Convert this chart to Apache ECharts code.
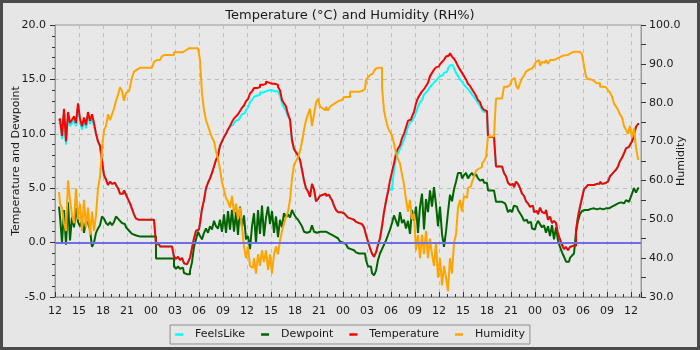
<!DOCTYPE html>
<html>
<head>
<meta charset="utf-8">
<script src="https://cdn.jsdelivr.net/npm/echarts@6/dist/echarts.min.js"></script>
<style>
  html, body { margin: 0; padding: 0; background: #e6e6e6; }
  #chart { width: 700px; height: 350px; }
</style>
</head>
<body>
<div id="chart"></div>
<script>
// Sampling: readings every 15 minutes, starting 12:30 on the first day.
// Hours are counted from 12:00 on the first day.
const startHour = 0.5;
const stepHours = 0.25;

// Labels for the 3-hourly ticks (0, 3, 6, ... 72 hours after 12:00)
const hourLabels = [
  '12', '15', '18', '21', '00', '03', '06', '09',
  '12', '15', '18', '21', '00', '03', '06', '09',
  '12', '15', '18', '21', '00', '03', '06', '09',
  '12'
];

const seriesNames = ['FeelsLike', 'Dewpoint', 'Temperature', 'Humidity'];

// Air temperature, °C (one row per hour)
const temperature = [
  11.2, 11.4,
  9.8, 12.3, 9.3, 12.0,
  11.0, 11.3, 11.6, 11.0,
  12.8, 11.4, 10.7, 11.5,
  10.8, 12.0, 11.2, 11.8,
  11.0, 10.0, 9.3, 8.9,
  7.5, 6.2, 5.8, 5.3,
  5.6, 5.4, 5.5, 5.3,
  5.0, 4.5, 4.5, 4.8,
  4.4, 4.0, 3.6, 3.1,
  2.6, 2.2, 2.1, 2.1,
  2.1, 2.1, 2.1, 2.1,
  2.1, 2.1, 2.1, -0.1,
  -0.15, -0.35, -0.35, -0.35,
  -0.35, -0.35, -0.35, -0.5,
  -1.3, -1.5, -1.3, -1.6,
  -1.4, -1.9, -2.0, -1.8,
  -1.4, -0.5, 0.4, 1.1,
  1.2, 1.8, 3.1, 3.9,
  5.0, 5.5, 5.9, 6.4,
  7.0, 7.6, 8.0, 8.9,
  9.3, 9.7, 10.0, 10.4,
  10.7, 11.1, 11.4, 11.6,
  11.8, 12.1, 12.4, 12.6,
  13.0, 13.2, 13.7, 13.9,
  14.2, 14.2, 14.3, 14.5,
  14.5, 14.6, 14.8, 14.7,
  14.6, 14.6, 14.6, 14.5,
  14.3, 14.0, 13.1, 12.8,
  12.5, 11.8, 11.3, 9.4,
  8.6, 8.3, 8.0, 7.6,
  6.7, 5.7, 5.0, 4.7,
  4.2, 5.4, 4.9, 3.8,
  4.0, 4.3, 4.4, 4.5,
  4.3, 4.4, 4.2, 3.9,
  3.4, 3.0, 2.8, 2.8,
  2.7, 2.6, 2.5, 2.3,
  2.2, 2.1, 2.1, 1.9,
  1.8, 1.7, 1.6, 1.4,
  0.7, 0.1, -0.5, -1.0,
  -1.3, -0.9, -0.2, 0.4,
  1.5, 2.8, 3.8, 4.7,
  5.7, 6.5, 7.3, 8.2,
  8.65, 8.95, 9.6, 10.0,
  10.6, 11.2, 11.3, 11.6,
  12.0, 12.8, 13.3, 13.6,
  13.9, 14.1, 14.4, 14.7,
  15.3, 15.6, 15.9, 16.1,
  16.2, 16.4, 16.6, 16.8,
  17.1, 17.2, 17.4, 17.1,
  16.9, 16.6, 16.2, 15.9,
  15.6, 15.3, 15.0, 14.6,
  14.4, 14.1, 13.8, 13.5,
  13.1, 12.9, 12.4, 12.2,
  12.1, 9.7, 9.7, 9.7,
  9.7, 7.0, 7.0, 7.0,
  7.0, 6.4, 6.1, 5.5,
  5.3, 5.4, 5.1, 5.6,
  5.4, 5.0, 4.5, 4.3,
  3.8, 3.6, 3.3, 3.4,
  2.8, 2.9, 2.6, 3.2,
  2.8, 2.7, 3.0, 2.1,
  2.4, 1.8, 2.0, 1.8,
  0.8, 0.3, -0.2, -0.6,
  -0.4, -0.7, -0.4, -0.3,
  -0.3, 1.1, 2.4, 3.3,
  4.1, 4.9, 5.1, 5.3,
  5.3, 5.3, 5.4, 5.4,
  5.4, 5.6, 5.4, 5.45,
  5.6, 5.75, 6.1, 6.3,
  6.5, 6.7, 7.0, 7.5,
  7.8, 8.2, 8.65, 8.8,
  9.0, 9.3, 9.9, 10.65,
  10.9
];

// Apparent ("feels like") temperature, °C
const feelsLike = [
  10.9, 11.1,
  9.5, 12.0, 9.0, 11.7,
  10.7, 11.0, 11.3, 10.7,
  12.5, 11.1, 10.4, 11.2,
  10.5, 11.7, 10.9, 11.5,
  10.7, 10.0, 9.3, 8.9,
  7.5, 6.2, 5.8, 5.3,
  5.6, 5.4, 5.5, 5.3,
  5.0, 4.5, 4.5, 4.8,
  4.4, 4.0, 3.6, 3.1,
  2.6, 2.2, 2.1, 2.1,
  2.1, 2.1, 2.1, 2.1,
  2.1, 2.1, 2.1, -0.1,
  -0.15, -0.35, -0.35, -0.35,
  -0.35, -0.35, -0.35, -0.5,
  -1.3, -1.5, -1.3, -1.6,
  -1.4, -1.9, -2.0, -1.8,
  -1.4, -0.5, 0.4, 1.1,
  1.2, 1.8, 3.1, 3.9,
  5.0, 5.5, 5.9, 6.4,
  7.0, 7.6, 8.0, 8.9,
  9.3, 9.7, 10.0, 10.4,
  10.7, 10.8, 11.0, 11.2,
  11.3, 11.5, 11.8, 11.9,
  12.2, 12.4, 12.9, 13.1,
  13.4, 13.5, 13.6, 13.8,
  13.8, 13.9, 14.0, 14.0,
  14.0, 14.0, 13.9, 13.9,
  13.8, 13.5, 12.8, 12.4,
  12.1, 11.6, 11.3, 9.4,
  8.6, 8.3, 8.0, 7.6,
  6.7, 5.7, 5.0, 4.7,
  4.2, 5.4, 4.9, 3.8,
  4.0, 4.3, 4.4, 4.5,
  4.3, 4.4, 4.2, 3.9,
  3.4, 3.0, 2.8, 2.8,
  2.7, 2.6, 2.5, 2.3,
  2.2, 2.1, 2.1, 1.9,
  1.8, 1.7, 1.6, 1.4,
  0.7, 0.1, -0.5, -1.0,
  -1.3, -0.9, -0.2, 0.4,
  1.5, 2.8, 3.8, 4.7,
  5.0, 4.8, 6.8, 7.8,
  8.2, 8.6, 9.0, 9.5,
  10.0, 10.7, 11.0, 11.2,
  11.5, 12.0, 12.5, 12.9,
  13.1, 13.6, 13.8, 14.0,
  14.3, 14.5, 14.7, 14.9,
  15.1, 15.3, 15.4, 15.6,
  15.7, 16.0, 16.3, 16.3,
  16.0, 15.6, 15.3, 15.0,
  14.8, 14.5, 14.3, 14.1,
  13.9, 13.6, 13.4, 13.1,
  12.8, 12.6, 12.2, 12.0,
  12.0, 9.7, 9.7, 9.7,
  9.7, 7.0, 7.0, 7.0,
  7.0, 6.4, 6.1, 5.5,
  5.3, 5.4, 5.1, 5.6,
  5.4, 5.0, 4.5, 4.3,
  3.8, 3.6, 3.3, 3.4,
  2.8, 2.9, 2.6, 3.2,
  2.8, 2.7, 3.0, 2.1,
  2.4, 1.8, 2.0, 1.8,
  0.8, 0.3, -0.2, -0.6,
  -0.4, -0.7, -0.4, -0.3,
  -0.3, 1.1, 2.4, 3.3,
  4.1, 4.9, 5.1, 5.3,
  5.3, 5.3, 5.4, 5.4,
  5.4, 5.6, 5.4, 5.45,
  5.6, 5.75, 6.1, 6.3,
  6.5, 6.7, 7.0, 7.5,
  7.8, 8.2, 8.65, 8.8,
  9.0, 9.3, 9.9, 10.65,
  10.9
];

// Dew point, °C
const dewpoint = [
  3.3, 2.4,
  0.0, 3.0, -0.2, 3.7,
  0.2, 2.4, 1.4, 3.2,
  1.9, 1.5, 2.0, 0.9,
  2.0, 1.8, 1.2, -0.4,
  0.0, 0.9, 1.3, 1.6,
  2.4, 2.2, 1.8, 1.6,
  1.9, 1.6, 1.9, 2.4,
  2.2, 2.0, 1.8, 1.7,
  1.4, 1.2, 1.0, 0.8,
  0.7, 0.6, 0.55, 0.55,
  0.55, 0.55, 0.55, 0.55,
  0.55, 0.55, 0.55, -1.45,
  -1.45, -1.45, -1.45, -1.45,
  -1.45, -1.45, -1.45, -1.45,
  -2.2, -2.4, -2.2, -2.4,
  -2.3, -2.8, -2.9, -2.9,
  -2.6, -1.8, -0.4, 0.3,
  1.0, 0.6, 0.3, 0.9,
  1.3, 0.9, 1.5, 1.2,
  2.0, 1.5, 1.3, 2.1,
  1.0, 2.6, 0.9, 2.9,
  1.2, 3.0, 1.0, 2.8,
  0.7, 3.3, 1.4, 2.5,
  0.3, 0.6, -0.6, 1.5,
  2.7, -0.1, 3.0, 0.8,
  3.4, 0.6, 2.3, 3.3,
  1.7, 2.9, 0.9, 2.4,
  0.5, 2.1, 1.4, 2.7,
  2.3, 2.6, 2.3, 3.0,
  2.6, 2.3, 2.1, 1.8,
  1.5, 1.0, 0.9, 1.0,
  1.1, 1.6, 1.0, 0.9,
  1.0, 1.15, 1.0, 1.0,
  0.9, 0.85, 0.7, 0.6,
  0.55, 0.4, 0.24, 0.1,
  0.0, -0.15, -0.3, -0.5,
  -0.6, -0.7, -0.8, -0.9,
  -1.0, -1.0, -1.15, -1.0,
  -1.6, -2.2, -2.2, -2.8,
  -3.0, -2.6, -1.6, -1.0,
  -0.6, -0.2, 0.2, 0.7,
  1.2, 1.8, 2.5, 2.0,
  1.5, 2.8, 1.8, 2.1,
  1.3, 2.0, 0.8, 3.0,
  2.0, 3.3, 0.9, 3.3,
  4.5, 1.2, 4.0, 2.8,
  4.8, 3.3, 5.1, 3.5,
  1.5, 3.3, 0.8, -0.4,
  1.0, 2.8, 4.4, 3.8,
  4.9, 5.6, 6.4, 6.4,
  5.9, 6.2, 6.4, 5.9,
  6.2, 6.4, 6.1, 6.3,
  5.9, 5.7, 5.8, 5.5,
  5.5, 4.8, 4.8, 4.8,
  4.8, 3.75, 3.75, 3.75,
  3.75, 3.6, 3.4, 2.8,
  3.0, 2.8, 3.4, 3.3,
  3.0, 2.7, 2.4, 2.0,
  2.1, 1.8, 1.9, 1.3,
  1.2, 1.6, 2.0, 1.7,
  1.4, 1.6, 0.9, 1.5,
  0.6, 1.6, 0.3, 1.4,
  0.2, -0.4, -0.9, -1.3,
  -1.75, -1.75, -1.4, -1.2,
  -1.0, 1.0, 2.0, 2.6,
  2.9, 3.0, 3.0, 3.0,
  3.1, 3.15, 3.15, 3.05,
  3.15, 3.0, 3.05, 3.15,
  3.2, 3.15, 3.3, 3.4,
  3.45, 3.6, 3.75, 3.7,
  3.6, 3.75, 3.9, 3.75,
  4.0, 4.5, 5.0, 4.6,
  5.0
];

// Relative humidity, %
const humidity = [
  57, 54,
  53, 49, 47, 60,
  55, 51, 49, 58,
  50, 54, 47, 55,
  48, 53, 46, 52,
  47, 51, 58, 61,
  68, 73, 74, 77,
  75.5, 77, 78.5, 80.5,
  82, 84, 83, 80.5,
  82.5, 83, 84, 86.5,
  88, 88.5, 89, 89,
  89, 89, 89, 89,
  89, 89, 90.5, 91,
  91, 91.5, 92, 92.3,
  92.3, 92.3, 92.3, 92.3,
  93, 93, 93, 93.5,
  93, 93.5, 93.8, 94,
  94, 94, 94, 94,
  94, 91, 82.4, 78.1,
  75.5, 74, 72.5, 71,
  70, 67.5, 65.5, 63,
  59.5, 57.5, 55.5, 54.5,
  53, 56, 51.5, 54,
  50, 53, 48, 43,
  40, 43, 38, 37.5,
  40, 36, 41, 38,
  42, 39, 42, 37,
  41, 36, 41, 43,
  41, 44.5, 47, 49,
  50.5, 52, 55, 60.5,
  64, 65, 66, 67.5,
  70, 73, 75.5, 77,
  78.5, 74, 77, 80,
  81, 79, 78.5, 78,
  79, 78, 79, 79.5,
  80, 80.5, 80.5, 80.7,
  81, 81.5, 81.5, 81.5,
  82.8, 82.8, 82.8, 82.8,
  82.8, 83, 83, 83.5,
  85.8, 86.5, 87.1, 87.5,
  88.2, 88.8, 89, 89,
  84, 78, 75.5, 73.5,
  72.5, 71.5, 69.5, 67,
  65.5, 64.4, 61.5, 59,
  55, 52, 55, 50,
  51.5, 42, 46, 40,
  46, 41, 47, 40,
  45, 41, 38, 44,
  35, 40, 33, 38,
  35, 31.5, 40, 36,
  44, 46, 53, 55,
  52, 56, 55.5, 58,
  58.5, 59.5, 61, 62.5,
  63, 63.5, 64.3, 65,
  66, 71.3, 71.3, 71.3,
  71.3, 81.1, 81.1, 81.1,
  81.1, 84.1, 84.1, 84.5,
  85, 86, 86.3, 84.5,
  83.5, 85, 86.3, 87,
  88, 88.5, 88.8, 89,
  89.5, 90.5, 91, 89.5,
  90.5, 90.3, 91, 90,
  91, 91, 91.2, 91.4,
  91.6, 92, 91.6, 92.2,
  92.3, 92.3, 92.8, 93.1,
  93.1, 93.1, 93.1, 93.1,
  92.5, 89.5, 86.7, 86.1,
  86, 85.6, 85.1, 85,
  85, 84.1, 84.1, 84,
  83.7, 83.2, 82.6, 81.6,
  79.8, 79, 78.1, 77,
  76.2, 74, 73, 72,
  74, 71, 73.5, 68.5,
  65.5
];

// Pair each reading with its time (hours after 12:00 on day one)
function toPoints(values) {
  return values.map((v, i) => [startHour + i * stepHours, v]);
}

const FONT = 'DejaVu Sans';
const TEXT = '#1a1a1a';

const chart = echarts.init(document.getElementById('chart'), null, { renderer: 'canvas' });

function lineSeries(name, values, color, yAxisIndex, extra) {
  return Object.assign({
    name: name,
    type: 'line',
    data: toPoints(values),
    yAxisIndex: yAxisIndex,
    showSymbol: false,
    symbol: 'none',
    step: 'middle',
    lineStyle: { color: color, width: 2 },
    itemStyle: { color: color },
    emphasis: { disabled: true },
    animation: false
  }, extra || {});
}

chart.setOption({
  backgroundColor: '#e6e6e6',
  textStyle: { fontFamily: FONT, color: TEXT },
  animation: false,
  title: {
    text: 'Temperature (°C) and Humidity (RH%)',
    left: 'center',
    top: 4,
    textStyle: { fontFamily: FONT, fontSize: 13, fontWeight: 'normal', color: TEXT }
  },
  graphic: [{
    type: 'rect',
    silent: true,
    z: 100,
    shape: { x: 1.5, y: 1.5, width: 697, height: 347 },
    style: { fill: null, stroke: '#4a4a4a', lineWidth: 3 }
  }],
  legend: {
    data: seriesNames,
    left: 'center',
    top: 325,
    padding: [4, 5],
    itemGap: 16,
    itemWidth: 8,
    itemHeight: 2.5,
    icon: 'rect',
    borderColor: '#8c8c8c',
    borderWidth: 1,
    backgroundColor: '#e6e6e6',
    textStyle: { fontFamily: FONT, fontSize: 11, color: TEXT, padding: [0, 0, 0, 7] }
  },
  grid: {
    left: 55, right: 59, top: 25, bottom: 53,
    containLabel: false,
    outerBoundsMode: 'none',
    show: true,
    backgroundColor: '#e8e8e8',
    borderColor: '#9a9a9a',
    borderWidth: 1
  },
  xAxis: {
    type: 'value',
    min: 0,
    max: 73.25,
    interval: 3,
    axisLine: { show: true, onZero: false, lineStyle: { color: '#9a9a9a' } },
    axisTick: { show: true, inside: true, length: 5, lineStyle: { color: '#333' } },
    minorTick: { show: true, splitNumber: 3, length: 3, lineStyle: { color: '#333' } },
    axisLabel: {
      fontFamily: FONT, fontSize: 11, color: TEXT, margin: 9,
      showMaxLabel: false,
      formatter: function (v) {
        const i = Math.round(v / 3);
        if (Math.abs(v - i * 3) > 1e-6) return '';
        return hourLabels[i] || '';
      }
    },
    splitLine: { show: true, lineStyle: { color: '#bdbdbd', type: [4, 4], width: 1 } }
  },
  yAxis: [{
    type: 'value',
    min: -5,
    max: 20,
    interval: 5,
    position: 'left',
    name: 'Temperature and Dewpoint',
    nameLocation: 'middle',
    nameRotate: 90,
    nameGap: 33,
    nameMoveOverlap: false,
    nameTextStyle: { fontFamily: FONT, fontSize: 11, color: TEXT },
    axisLine: { show: true, lineStyle: { color: '#9a9a9a' } },
    axisTick: { show: true, length: 5, lineStyle: { color: '#333' } },
    minorTick: { show: true, splitNumber: 5, length: 3, lineStyle: { color: '#333' } },
    axisLabel: {
      fontFamily: FONT, fontSize: 11, color: TEXT, margin: 9,
      formatter: function (v) { return v.toFixed(1); }
    },
    splitLine: { show: true, lineStyle: { color: '#bdbdbd', type: [4, 4], width: 1 } }
  }, {
    type: 'value',
    min: 30,
    max: 100,
    interval: 10,
    position: 'right',
    name: 'Humidity',
    nameLocation: 'middle',
    nameRotate: 90,
    nameGap: 35,
    nameMoveOverlap: false,
    nameTextStyle: { fontFamily: FONT, fontSize: 11, color: TEXT },
    axisLine: { show: true, lineStyle: { color: '#9a9a9a' } },
    axisTick: { show: true, length: 5, lineStyle: { color: '#333' } },
    minorTick: { show: true, splitNumber: 2, length: 5, lineStyle: { color: '#333' } },
    axisLabel: {
      fontFamily: FONT, fontSize: 11, color: TEXT, margin: 8,
      formatter: function (v) { return v.toFixed(1); }
    },
    splitLine: { show: false }
  }],
  series: [
    lineSeries('FeelsLike', feelsLike, '#00ffff', 0, {
      // freezing line at 0 °C
      markLine: {
        silent: true,
        symbol: 'none',
        label: { show: false },
        lineStyle: { color: '#6e6ee6', width: 2, type: 'solid' },
        data: [{ yAxis: 0 }],
        animation: false
      }
    }),
    lineSeries('Dewpoint', dewpoint, '#006400', 0),
    lineSeries('Temperature', temperature, '#ff0000', 0),
    lineSeries('Humidity', humidity, '#ffa500', 1)
  ]
});
</script>
</body>
</html>
